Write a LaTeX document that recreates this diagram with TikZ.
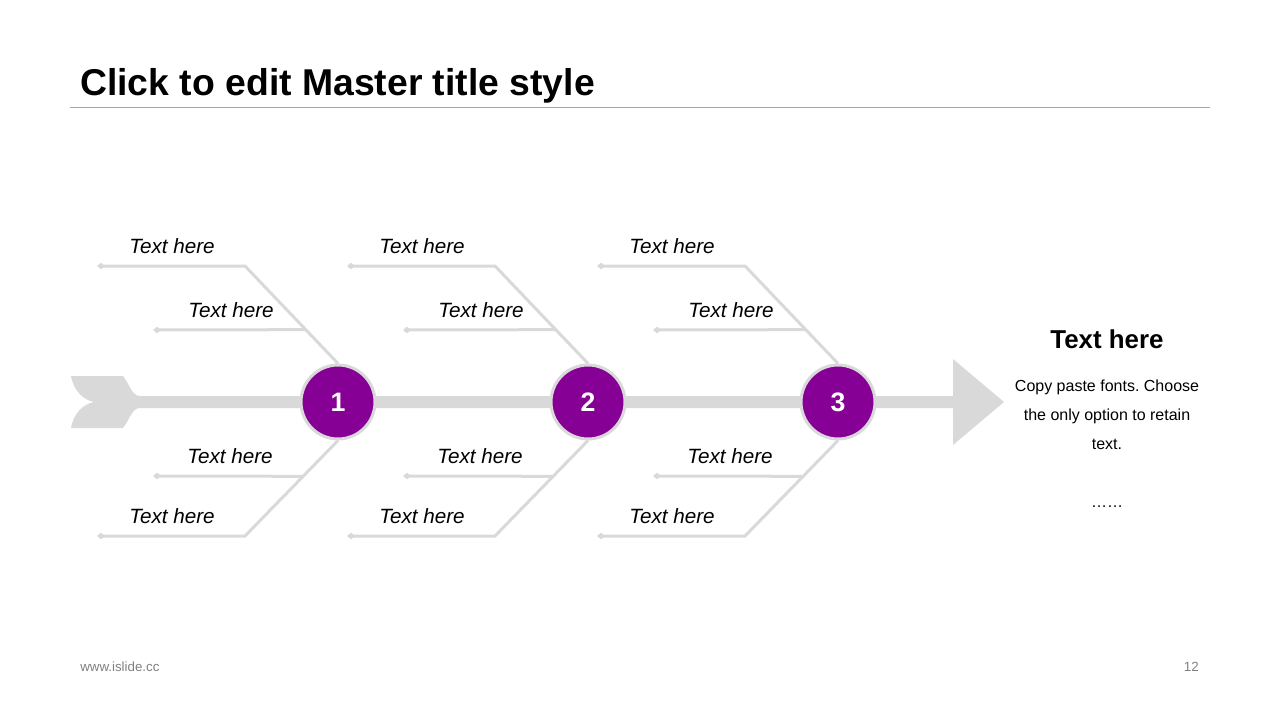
\documentclass[tikz,border=0pt]{standalone}
\usepackage{fontspec}
\setmainfont{Liberation Sans}
\usetikzlibrary{arrows.meta,calc}
\definecolor{bonegray}{RGB}{217,217,217}
\definecolor{rulegray}{RGB}{166,166,166}
\definecolor{footgray}{RGB}{128,128,128}
\definecolor{headpurple}{RGB}{135,0,150}
\frenchspacing
\begin{document}
\begin{tikzpicture}[x=0.75pt,y=-0.75pt]
  \tikzstyle{bone}=[draw=bonegray,line width=2.25pt,-{Diamond[length=6pt,width=5pt]}]
  \tikzstyle{head}=[circle,fill=headpurple,draw=bonegray,line width=2.25pt,
    inner sep=0pt,minimum size=55.5pt,text=white,font=\fontsize{20}{24}\selectfont\bfseries]
  \tikzstyle{lbl}=[inner sep=0pt,anchor=base,font=\fontsize{15.5}{18}\selectfont\itshape]
  \useasboundingbox (0,0) rectangle (1280,720);
  % title and rule
  \node[inner sep=0pt,anchor=base west,font=\fontsize{28}{32}\selectfont\bfseries] (title) at (80,96) {Click to edit Master title style};
  \draw[rulegray,line width=0.75pt] (70,108) -- (1210,108);
  % spine with tail and head
  \fill[bonegray] (71,376) -- (123,376) .. controls (130,385) and (132,396) .. (140,396)
    -- (953,396) -- (953,359) -- (1004,402) -- (953,445) -- (953,408) -- (140,408)
    .. controls (132,408) and (130,419) .. (123,428) -- (71,428)
    .. controls (74,412) and (84,404) .. (94,402)
    .. controls (84,400) and (74,392) .. (71,376) -- cycle;
  % bones
  \foreach \i/\x in {1/338,2/588,3/838} {
    \node[head] at (\x,402) (c\i) {\i};
    \coordinate (u\i) at (\x-93,266);
    \coordinate (d\i) at (\x-93,536);
    \draw[bone] (c\i.north) -- (u\i) -- (\x-241,266);
    \draw[bone] ($(c\i.north)!0.347!(u\i)$) -- (\x-185,330);
    \draw[bone] (c\i.south) -- (d\i) -- (\x-241,536);
    \draw[bone] ($(c\i.south)!0.375!(d\i)$) -- (\x-185,476);
    \node[lbl] (ua\i) at (\x-166,253) {Text here};
    \node[lbl] (ub\i) at (\x-107,317) {Text here};
    \node[lbl] (db\i) at (\x-108,463) {Text here};
    \node[lbl] (da\i) at (\x-166,523) {Text here};
  }
  % side text
  \node[inner sep=0pt,anchor=base,font=\fontsize{19.4}{23}\selectfont\bfseries] (side) at (1107,348) {Text here};
  \node[inner sep=0pt,anchor=base,align=center,font=\fontsize{12}{21.75}\selectfont] (body) at (1107,449)
    {Copy paste fonts. Choose\\the only option to retain\\text.};
  \node[inner sep=0pt,anchor=base,font=\fontsize{12}{14}\selectfont] (dots) at (1107,507) {……};
  % footer
  \node[inner sep=0pt,anchor=base west,text=footgray,font=\fontsize{10}{12}\selectfont] (url) at (80,671) {www.islide.cc};
  \node[inner sep=0pt,anchor=base east,text=footgray,font=\fontsize{10}{12}\selectfont] (page) at (1199,671) {12};
\end{tikzpicture}
\end{document}
